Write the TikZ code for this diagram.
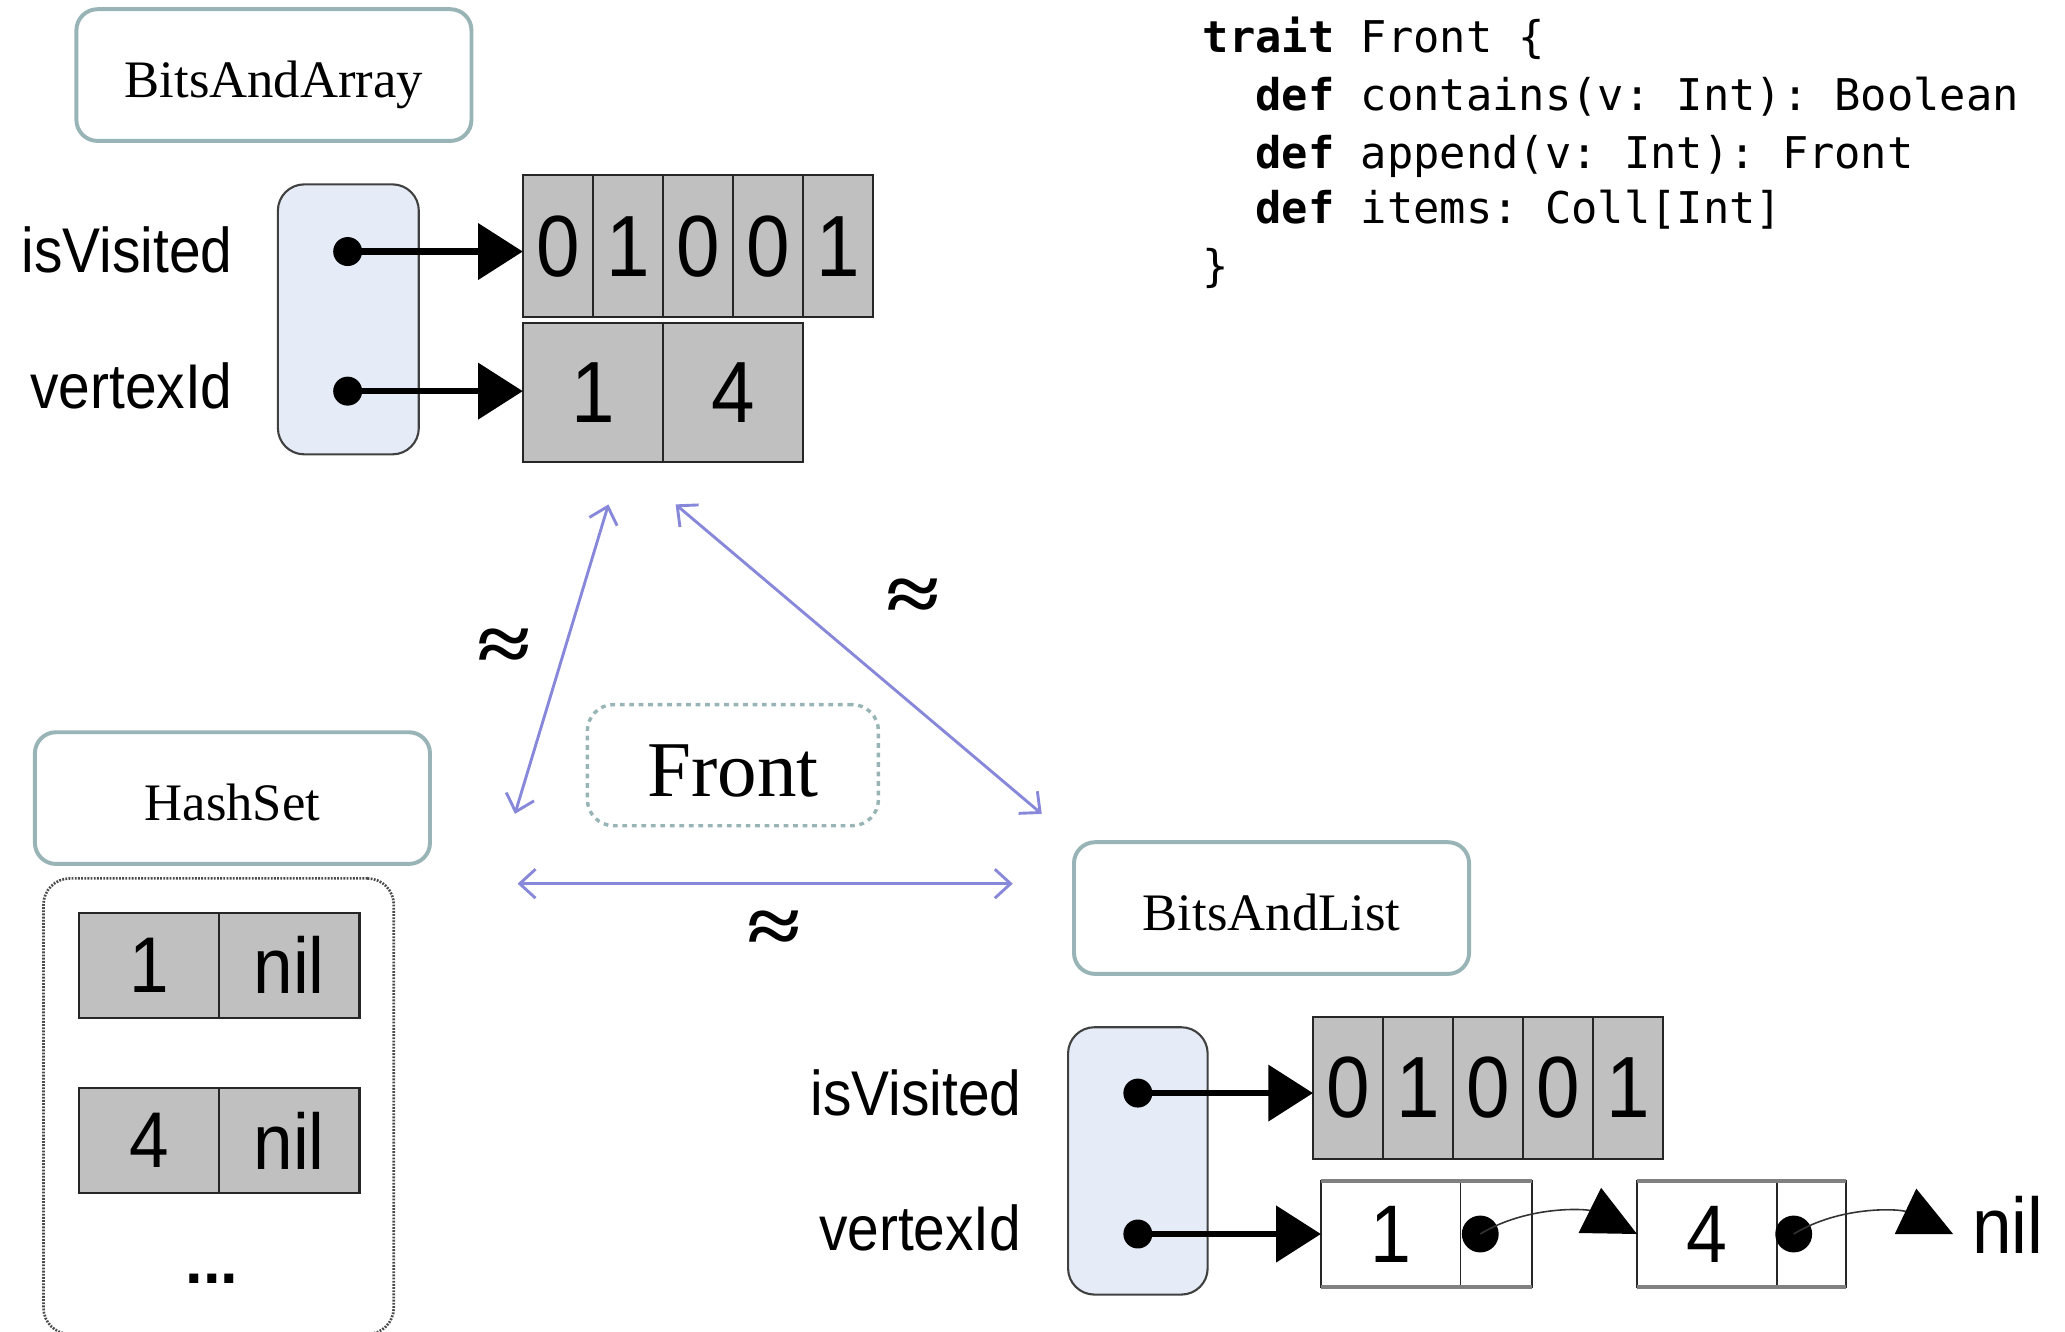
\documentclass[tikz,border=0pt]{standalone}
\usepackage{fontspec}
\setmainfont{Liberation Serif}
\setsansfont{Liberation Sans}
\setmonofont{DejaVu Sans Mono}
\newfontfamily\tallsans{Liberation Sans}[FakeStretch=0.9]
\usetikzlibrary{arrows.meta}

\definecolor{boxedge}{RGB}{153,180,182}
\definecolor{eqline}{RGB}{136,136,218}
\definecolor{ptrfill}{RGB}{230,236,247}
\definecolor{cellgray}{RGB}{192,192,192}

\begin{document}
\begin{tikzpicture}[x=0.5pt,y=-0.5pt,
  typebox/.style={draw=boxedge, line width=1.5pt, rounded corners=8pt, fill=white,
    minimum width=150pt, minimum height=50pt, inner sep=0pt,
    text height=17pt, text depth=0pt,
    font=\fontsize{20}{24}\selectfont},
  frontbox/.style={draw=boxedge, line width=1.3pt, dash pattern=on 1.8pt off 1.8pt,
    rounded corners=10pt, minimum width=110.5pt, minimum height=46pt, inner sep=0pt,
    text height=24pt, text depth=0pt,
    font=\fontsize{30}{32}\selectfont},
  ptrbox/.style={draw=black!75, line width=0.8pt, fill=ptrfill, rounded corners=10pt,
    minimum width=53.5pt, minimum height=102.5pt, inner sep=0pt},
  ptrdot/.style={circle, fill=black, inner sep=0pt, minimum size=11pt},
  listdot/.style={circle, fill=black, inner sep=0pt, minimum size=14pt},
  field/.style={anchor=east, inner sep=0pt, font=\tallsans\fontsize{24}{26}\selectfont},
  bit/.style={draw=black!85, line width=0.8pt, fill=cellgray, minimum width=26.6pt,
    minimum height=54pt, inner sep=0pt, outer sep=0pt,
    font=\tallsans\fontsize{33}{33}\selectfont},
  numcell/.style={draw=black!85, line width=0.8pt, fill=cellgray, minimum width=53.25pt,
    minimum height=53pt, inner sep=0pt, outer sep=0pt,
    font=\tallsans\fontsize{33}{33}\selectfont},
  hcell/.style={draw=black!85, line width=0.8pt, fill=cellgray, minimum height=40pt,
    inner sep=0pt, outer sep=0pt, font=\tallsans\fontsize{30}{30}\selectfont},
  lcell/.style={draw=black!85, line width=0.7pt, fill=white, minimum height=40pt,
    inner sep=0pt, outer sep=0pt, font=\tallsans\fontsize{31}{31}\selectfont},
  lcap/.style={draw=black!50, line width=1.4pt},
  dotbox/.style={draw=black!70, line width=1pt, dash pattern=on 0.7pt off 0.5pt,
    rounded corners=10pt, inner sep=0pt},
  ptrarrow/.style={line width=2.5pt, -{Triangle[length=17pt,width=21pt]}},
  linkarrow/.style={line width=0.6pt, draw=black!80,
    -{Triangle[length=20pt,width=19pt,color=black]}},
  eqarrow/.style={draw=eqline, line width=1.1pt,
    {Straight Barb[length=6pt,width=11pt]}-{Straight Barb[length=6pt,width=11pt]}},
  approx/.style={inner sep=0pt, font=\bfseries\fontsize{32}{32}\selectfont},
  code/.style={anchor=base west, inner sep=0pt, font=\ttfamily\fontsize{16.6}{22}\selectfont}
]
\useasboundingbox (0,0) rectangle (1568,1011);

% ---------- trait Front ----------
\node[code] (c1) at (913,40)  {\textbf{trait} Front \{};
\node[code] (c2) at (913,84)  {\hphantom{xx}\textbf{def} contains(v: Int): Boolean};
\node[code] (c3) at (913,128) {\hphantom{xx}\textbf{def} append(v: Int): Front};
\node[code] (c4) at (913,170) {\hphantom{xx}\textbf{def} items: Coll[Int]};
\node[code] (c5) at (913,214) {\}};

% ---------- BitsAndArray ----------
\node[typebox] (baa) at (208,57) {BitsAndArray};
\node[ptrbox] (baaptr) at (264.5,242.5) {};
\node[field] (baavis) at (177,190) {isVisited};
\node[field] (baavid) at (177,293) {vertexId};
\foreach \b [count=\i] in {0,1,0,0,1}
  \node[bit] (baab\i) at ({397+53.2*(\i-0.5)},187) {\b};
\node[numcell] (baav1) at (450.25,298) {1};
\node[numcell] (baav2) at (556.75,298) {4};
\node[ptrdot] (baad1) at (264,191) {};
\node[ptrdot] (baad2) at (264,297) {};
\draw[ptrarrow] (baad1.center) -- (baad1.center -| baab1.west);
\draw[ptrarrow] (baad2.center) -- (baad2.center -| baav1.west);

% ---------- HashSet ----------
\node[typebox] (hs) at (176.5,606) {HashSet};
\node[dotbox, minimum width=133pt, minimum height=173pt] (hsbody) at (166,840) {};
\node[hcell, minimum width=53pt]   (hs1k) at (113,733)   {1};
\node[hcell, minimum width=53.5pt] (hs1n) at (219.5,733) {nil};
\node[hcell, minimum width=53pt]   (hs2k) at (113,866)   {4};
\node[hcell, minimum width=53.5pt] (hs2n) at (219.5,866) {nil};
\node[inner sep=0pt, font=\sffamily\bfseries\fontsize{24}{24}\selectfont] (hsmore) at (161,971) {...};

% ---------- Front and the equivalences ----------
\node[frontbox] (front) at (556.5,581) {Front};
\coordinate (eqA1) at (462,383);
\coordinate (eqA2) at (391,618);
\coordinate (eqB1) at (513,383);
\coordinate (eqB2) at (791,618);
\coordinate (eqC1) at (393,671);
\coordinate (eqC2) at (769,671);
\draw[eqarrow] (eqA1) -- (eqA2);
\draw[eqarrow] (eqB1) -- (eqB2);
\draw[eqarrow] (eqC1) -- (eqC2);
\node[approx] (apA) at (383,494) {\scalebox{1.15}[0.95]{≈}};
\node[approx] (apB) at (693,456) {\scalebox{1.15}[0.95]{≈}};
\node[approx] (apC) at (588,708) {\scalebox{1.15}[0.95]{≈}};

% ---------- BitsAndList ----------
\node[typebox] (bal) at (965.5,689.5) {BitsAndList};
\node[ptrbox, minimum width=53pt, minimum height=101.5pt] (balptr) at (864,881.5) {};
\node[field] (balvis) at (776,830) {isVisited};
\node[field] (balvid) at (776,932) {vertexId};
\foreach \b [count=\i] in {0,1,0,0,1}
  \node[bit] (balb\i) at ({997+53.2*(\i-0.5)},826) {\b};
\node[lcell, minimum width=53pt]   (l1k) at (1056,937)   {1};
\node[lcell, minimum width=27pt]   (l1n) at (1136,937)   {};
\node[lcell, minimum width=53pt]   (l2k) at (1296,937)   {4};
\node[lcell, minimum width=26.5pt] (l2n) at (1375.5,937) {};
% heavier grey top and bottom edges of the list cells
\draw[lcap] (l1k.north west) -- (l1n.north east);
\draw[lcap] (l1k.south west) -- (l1n.south east);
\draw[lcap] (l2k.north west) -- (l2n.north east);
\draw[lcap] (l2k.south west) -- (l2n.south east);
\node[inner sep=0pt, anchor=west, font=\tallsans\fontsize{30}{30}\selectfont] (lnil) at (1497,930) {nil};
\node[ptrdot] (bald1) at (864,830) {};
\node[ptrdot] (bald2) at (864,937) {};
\draw[ptrarrow] (bald1.center) -- (bald1.center -| balb1.west);
\draw[ptrarrow] (bald2.center) -- (bald2.center -| l1k.west);
\node[listdot] (l1d) at (1124,937) {};
\node[listdot] (l2d) at (1362,937) {};
\draw[linkarrow] (l1d.center) .. controls (1160,915) and (1205,918) .. (l2k.west);
\coordinate (nilend) at ([xshift=-7pt]lnil.west |- l2d.center);
\draw[linkarrow] (l2d.center) .. controls (1398,915) and (1443,918) .. (nilend);
\end{tikzpicture}
\end{document}
